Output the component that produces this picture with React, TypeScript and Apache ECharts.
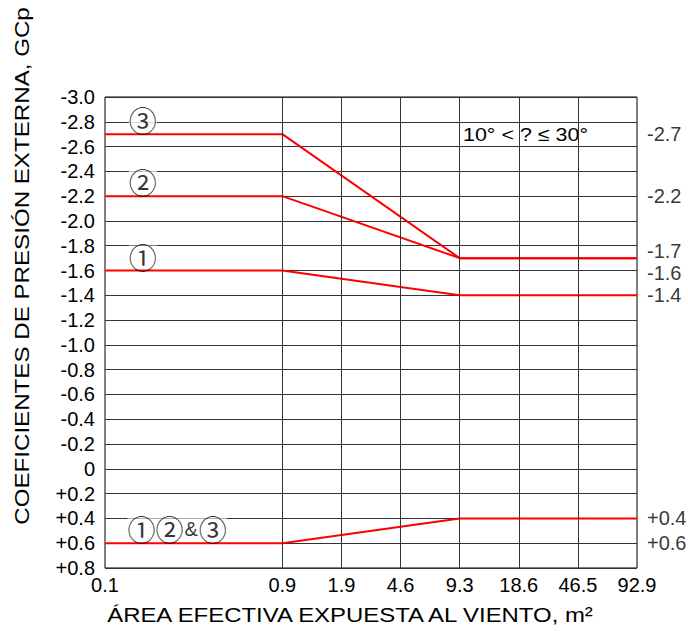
import React, { useEffect, useRef } from 'react';
import * as echarts from 'echarts';

// Tick labels of the effective wind area axis (m²) and their slot positions
const areaTicks = ['0.1', '0.9', '1.9', '4.6', '9.3', '18.6', '46.5', '92.9'];
const tickSlots = [0, 3, 4, 5, 6, 7, 8, 9];

// Break points of each zone curve
const breakAreas = ['0.1', '0.9', '9.3', '92.9'];
const zone1 = [-1.6, -1.6, -1.4, -1.4];
const zone2 = [-2.2, -2.2, -1.7, -1.7];
const zone3 = [-2.7, -2.7, -1.7, -1.7];
const zonesPositive = [0.6, 0.6, 0.4, 0.4];

// Values annotated on the right-hand side
const endValues = [-2.7, -2.2, -1.7, -1.6, -1.4, 0.4, 0.6];

const FONT = '"Liberation Sans", Arial, sans-serif';
const CIRCLE_FONT = '"Noto Sans CJK JP", "DejaVu Sans", sans-serif';

const slotOf = (a: string) => tickSlots[areaTicks.indexOf(a)];
const signed = (v: number) => {
  const r = Math.round(v * 10) / 10;
  if (r === 0) return '0';
  return r > 0 ? '+' + r.toFixed(1) : r.toFixed(1);
};

// small vertical nudges so the close right-hand values don't collide
const endOffsets: Record<string, number> = { '-1.7': -7, '-1.6': 2 };

export default function App() {
  const ref = useRef<HTMLDivElement>(null);

  useEffect(() => {
    if (!ref.current) return;
    const chart = echarts.init(ref.current, undefined, { renderer: 'svg' });

    const curve = (vals: number[]) => breakAreas.map((a, i) => [slotOf(a), vals[i]]);
    const redLine = (name: string, vals: number[]) => ({
      name,
      type: 'line',
      z: 3,
      data: curve(vals),
      symbol: 'none',
      lineStyle: { color: '#ff0000', width: 2 },
      silent: true,
    });
    const tag = (text: string, slot: number, v: number) => ({
      type: 'scatter',
      z: 4,
      silent: true,
      symbolSize: 0,
      data: [[slot, v]],
      label: {
        show: true,
        position: 'inside',
        offset: [0, -14],
        formatter: text,
        color: '#000',
        backgroundColor: '#fff',
        rich: {
          c: { fontSize: 28, fontFamily: CIRCLE_FONT, color: '#000', lineHeight: 22 },
          a: { fontSize: 20, fontFamily: FONT, color: '#000', lineHeight: 22, padding: [0, 1, 0, 1] },
        },
      },
    });

    chart.setOption({
      animation: false,
      backgroundColor: '#fff',
      grid: {
        left: 105,
        right: 51,
        top: 97,
        bottom: 63,
        show: true,
        borderColor: '#000',
        borderWidth: 1,
        containLabel: false,
      },
      xAxis: {
        type: 'value',
        min: 0,
        max: 9,
        interval: 1,
        axisLine: { show: false },
        axisTick: { show: false },
        splitLine: { show: false },
        axisLabel: {
          margin: 7,
          fontSize: 20,
          fontFamily: FONT,
          color: '#000',
          formatter: (v: number) => {
            const i = tickSlots.indexOf(v);
            return i >= 0 ? areaTicks[i] : '';
          },
        },
      },
      yAxis: {
        type: 'value',
        inverse: true,
        min: -3,
        max: 0.8,
        interval: 0.2,
        axisLine: { show: false },
        axisTick: { show: false },
        splitLine: { show: true, lineStyle: { color: '#333', width: 1 } },
        axisLabel: {
          margin: 10,
          fontSize: 20,
          fontFamily: FONT,
          color: '#000',
          formatter: (v: number) => signed(v),
        },
      },
      graphic: [
        {
          type: 'text',
          x: 22,
          y: 266,
          rotation: Math.PI / 2,
          scaleX: 1.15,
          style: {
            text: 'COEFICIENTES DE PRESIÓN EXTERNA, GCp',
            fontSize: 21,
            fontFamily: FONT,
            fill: '#000',
            align: 'center',
            verticalAlign: 'middle',
          },
        },
        {
          type: 'text',
          x: 350,
          y: 615,
          scaleX: 1.14,
          style: {
            text: 'ÁREA EFECTIVA EXPUESTA AL VIENTO, m²',
            fontSize: 21,
            fontFamily: FONT,
            fill: '#000',
            align: 'center',
            verticalAlign: 'middle',
          },
        },
        {
          type: 'text',
          x: 463,
          y: 134,
          scaleX: 1.13,
          style: {
            text: '10° < ? ≤ 30°',
            fontSize: 19,
            fontFamily: FONT,
            fill: '#000',
            align: 'left',
            verticalAlign: 'middle',
          },
        },
      ],
      series: [
        {
          type: 'scatter',
          z: 1,
          silent: true,
          symbolSize: 0,
          clip: false,
          data: endValues.map((v) => {
            const dy = endOffsets[signed(v)];
            return { value: [9, v], label: dy ? { offset: [0, dy] } : undefined };
          }),
          label: {
            show: true,
            position: 'right',
            distance: 10,
            fontSize: 20,
            fontFamily: FONT,
            color: '#000',
            formatter: (p: any) => signed(p.value[1]),
          },
          markLine: {
            silent: true,
            symbol: ['none', 'none'],
            label: { show: false },
            lineStyle: { color: '#333', type: 'solid', width: 1 },
            data: tickSlots.filter((s) => s > 0 && s < 9).map((s) => ({ xAxis: s })),
          },
        },
        redLine('Zona 1', zone1),
        redLine('Zona 2', zone2),
        redLine('Zona 3', zone3),
        redLine('Zonas 1, 2 y 3 (+)', zonesPositive),
        tag('{c|③}', 0.64, zone3[0]),
        tag('{c|②}', 0.64, zone2[0]),
        tag('{c|①}', 0.64, zone1[0]),
        tag('{c|①②}{a|&}{c|③}', 1.22, zonesPositive[0]),
      ],
    });

    return () => chart.dispose();
  }, []);

  return (
    <div
      ref={ref}
      style={{ position: 'fixed', left: 0, top: 0, width: 688, height: 631, background: '#fff' }}
    />
  );
}
